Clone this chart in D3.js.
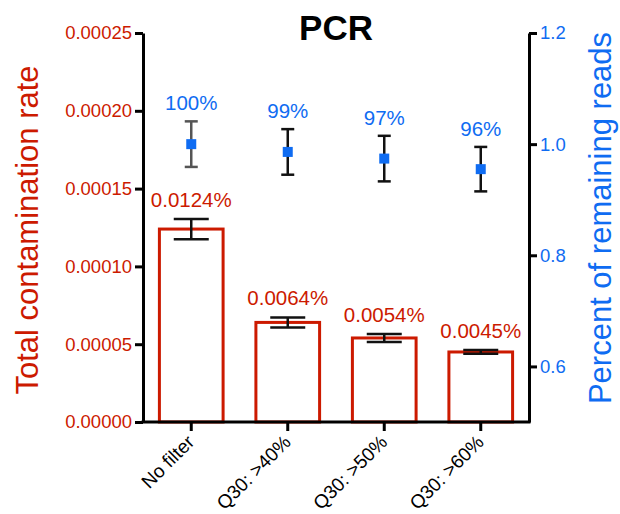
<!DOCTYPE html>
<html>
<head>
<meta charset="utf-8">
<script src="https://cdn.jsdelivr.net/npm/d3@7"></script>
<style>
  body { margin: 0; background: #fff; }
  svg { font-family: "Liberation Sans", Arial, sans-serif; }
</style>
</head>
<body>
<svg id="chart" width="620" height="514"></svg>
<script>
// data
const categories = ['No filter', 'Q30: >40%', 'Q30: >50%', 'Q30: >60%'];
const contamination = [0.000124, 0.000064, 0.000054, 0.000045];
const contaminationErr = [0.0000065, 0.0000032, 0.0000026, 0.0000012];
const contaminationLabels = ['0.0124%', '0.0064%', '0.0054%', '0.0045%'];
const remaining = [1.0, 0.986, 0.974, 0.955];
const remainingErr = [0.041, 0.041, 0.041, 0.04];
const remainingLabels = ['100%', '99%', '97%', '96%'];
const leftTicks = [0, 0.00005, 0.0001, 0.00015, 0.0002, 0.00025];
const rightTicks = [0.6, 0.8, 1.0, 1.2];

const red = '#cc1a00';
const blue = '#0f6cf2';

const svg = d3.select('#chart');
const plotLeft = 143, plotRight = 529, plotTop = 33, plotBottom = 422;

const x = d3.scaleBand()
    .domain(categories)
    .range([plotLeft, plotRight])
    .paddingInner(0.34)
    .paddingOuter(0.17);

const yL = d3.scaleLinear().domain([0, 0.00025]).range([plotBottom, plotTop]);
const yR = d3.scaleLinear().domain([0.5, 1.2]).range([plotBottom, plotTop]);

// bars
svg.selectAll('.bar')
    .data(contamination)
    .enter()
    .append('rect')
    .attr('x', (d, i) => x(categories[i]))
    .attr('y', d => yL(d))
    .attr('width', x.bandwidth())
    .attr('height', d => plotBottom - yL(d))
    .attr('fill', 'white')
    .attr('stroke', red)
    .attr('stroke-width', 3);

// error bars helper
function errorBar(cx, yTop, yBot, cap, color) {
    const g = svg.append('g').attr('stroke', color).attr('stroke-width', 2.5);
    g.append('line').attr('x1', cx).attr('x2', cx).attr('y1', yTop).attr('y2', yBot);
    g.append('line').attr('x1', cx - cap / 2).attr('x2', cx + cap / 2).attr('y1', yTop).attr('y2', yTop);
    g.append('line').attr('x1', cx - cap / 2).attr('x2', cx + cap / 2).attr('y1', yBot).attr('y2', yBot);
}

contamination.forEach((d, i) => {
    const cx = x(categories[i]) + x.bandwidth() / 2;
    errorBar(cx, yL(d + contaminationErr[i]), yL(d - contaminationErr[i]), 35, '#111');
    svg.append('text')
        .attr('x', cx)
        .attr('y', yL(d + contaminationErr[i]) - 12)
        .attr('text-anchor', 'middle')
        .attr('fill', red)
        .attr('font-size', '20.5px')
        .text(contaminationLabels[i]);
});

remaining.forEach((d, i) => {
    const cx = x(categories[i]) + x.bandwidth() / 2;
    errorBar(cx, yR(d + remainingErr[i]), yR(d - remainingErr[i]), 13, i === 0 ? '#555' : '#111');
    svg.append('rect')
        .attr('x', cx - 5)
        .attr('y', yR(d) - 5)
        .attr('width', 10)
        .attr('height', 10)
        .attr('fill', blue);
    svg.append('text')
        .attr('x', cx)
        .attr('y', yR(d + remainingErr[i]) - 11)
        .attr('text-anchor', 'middle')
        .attr('fill', blue)
        .attr('font-size', '20.5px')
        .text(remainingLabels[i]);
});

// axes
const leftAxis = svg.append('g')
    .attr('transform', `translate(${plotLeft},0)`)
    .call(d3.axisLeft(yL).tickValues(leftTicks).tickFormat(d3.format('.5f')).tickSize(8).tickSizeOuter(0));
leftAxis.selectAll('text').attr('fill', red).attr('font-size', '18.5px');

const rightAxis = svg.append('g')
    .attr('transform', `translate(${plotRight},0)`)
    .call(d3.axisRight(yR).tickValues(rightTicks).tickFormat(d3.format('.1f')).tickSize(8).tickSizeOuter(0));
rightAxis.selectAll('text').attr('fill', blue).attr('font-size', '18.5px');

const bottomAxis = svg.append('g')
    .attr('transform', `translate(0,${plotBottom})`)
    .call(d3.axisBottom(x).tickSize(9).tickSizeOuter(0));
bottomAxis.selectAll('text')
    .attr('fill', '#000')
    .attr('font-size', '19px')
    .attr('text-anchor', 'end')
    .attr('transform', 'rotate(-45)')
    .attr('x', -12)
    .attr('y', 18)
    .attr('dy', 0);

[leftAxis, rightAxis, bottomAxis].forEach(a => {
    a.select('.domain').attr('stroke', '#000').attr('stroke-width', 3);
    a.selectAll('.tick line').attr('stroke', '#000').attr('stroke-width', 3);
    a.attr('font-family', null);
});
// make the corners join
bottomAxis.select('.domain').attr('d', `M${plotLeft - 1.5},0H${plotRight + 1.5}`);

// titles
svg.append('text')
    .attr('x', (plotLeft + plotRight) / 2)
    .attr('y', 40)
    .attr('text-anchor', 'middle')
    .attr('font-size', '35px')
    .attr('font-weight', 'bold')
    .text('PCR');

svg.append('text')
    .attr('transform', 'translate(38,230) rotate(-90)')
    .attr('text-anchor', 'middle')
    .attr('fill', red)
    .attr('font-size', '31px')
    .text('Total contamination rate');

svg.append('text')
    .attr('transform', 'translate(611,218) rotate(-90)')
    .attr('text-anchor', 'middle')
    .attr('fill', blue)
    .attr('font-size', '31px')
    .text('Percent of remaining reads');
</script>
</body>
</html>
